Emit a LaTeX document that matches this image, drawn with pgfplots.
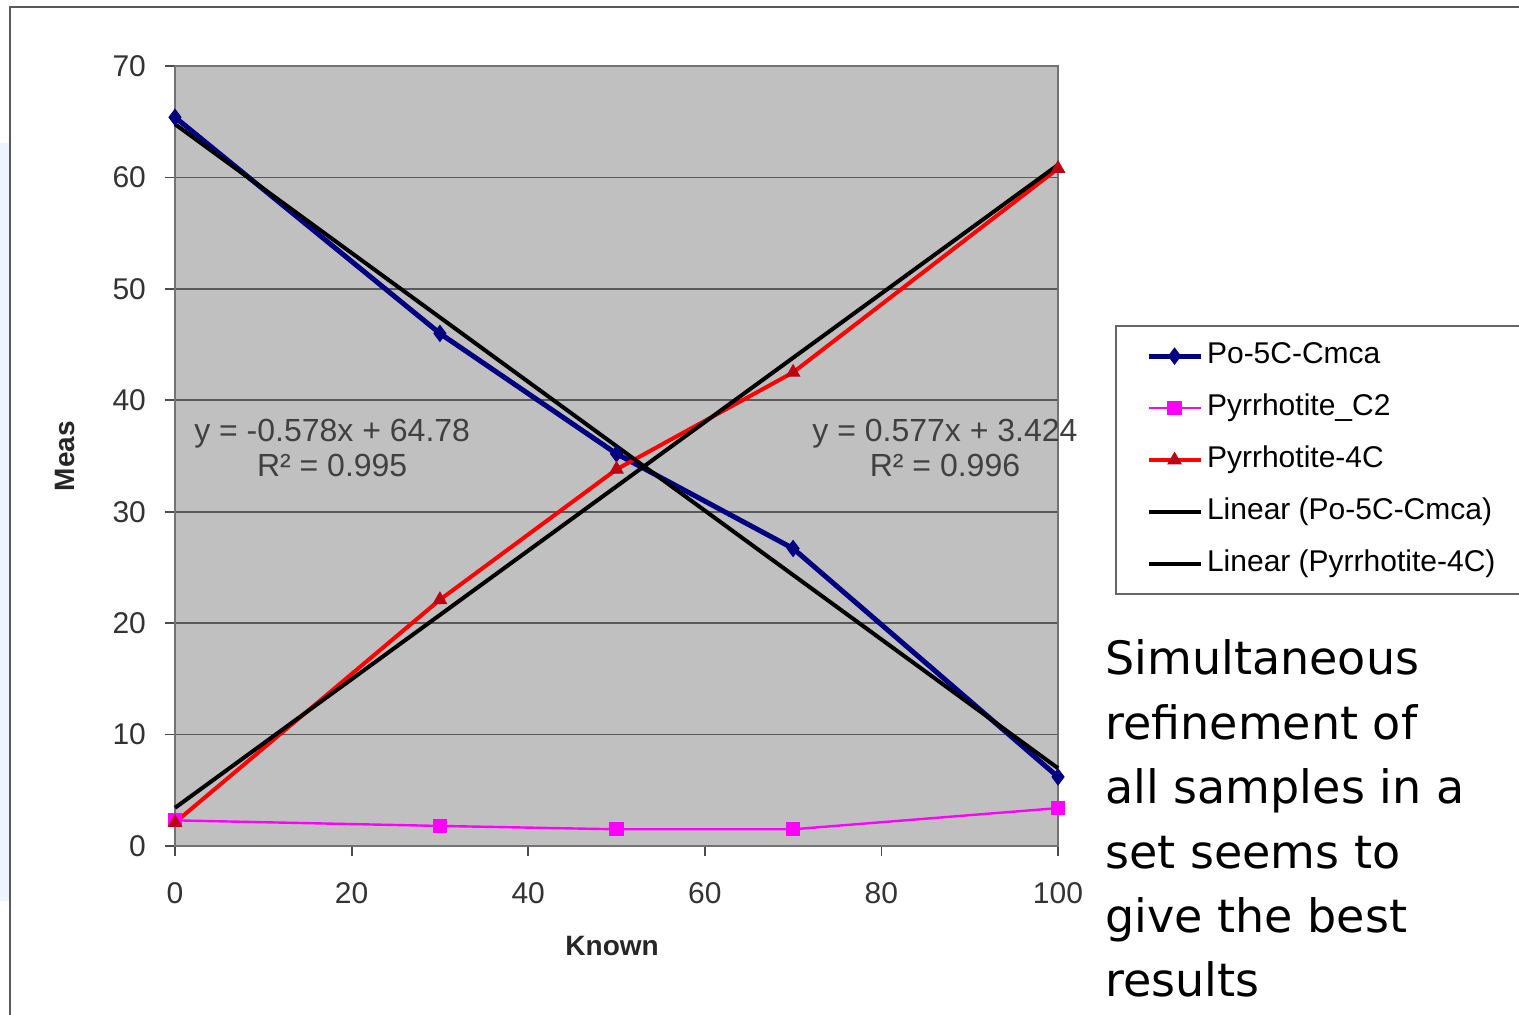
\documentclass[border=0pt]{standalone}
\usepackage{pgfplots}
\pgfplotsset{compat=1.18}
\usepackage{fontspec}
\setmainfont{Liberation Sans}
\newfontfamily\tahoma{DejaVu Sans}
\definecolor{plotbg}{RGB}{192,192,192}
\definecolor{navyb}{RGB}{0,0,128}
\definecolor{magb}{RGB}{255,0,255}
\definecolor{redb}{RGB}{255,0,0}
\definecolor{tribr}{RGB}{190,0,20}
\begin{document}
\begin{tikzpicture}[x=1pt,y=1pt]
\fill[color={rgb,255:red,238;green,244;blue,251}] (0,57) rectangle (4.5,436);
\draw[line width=1pt, color=black!65] (5,0) -- (5,504) -- (770,504);
\begin{axis}[
  at={(87.5pt,84.5pt)}, anchor=south west,
  scale only axis, width=441.5pt, height=390pt,
  xmin=0, xmax=100, ymin=0, ymax=70,
  xtick={0,20,...,100}, ytick={0,10,...,70},
  axis background/.style={fill=plotbg},
  ymajorgrids, grid style={color=black!65, line width=0.9pt},
  axis line style={color=black!55, line width=1pt},
  tick align=outside, major tick length=5pt, tick pos=left,
  tick style={color=black!70, line width=0.9pt},
  /pgf/number format/assume math mode=true,
  ticklabel style={font=\fontsize{15}{18}\selectfont, color=black!80},
  xticklabel style={yshift=-9.5pt},
  yticklabel style={xshift=-6pt},
  xlabel={\textbf{Known}}, ylabel={\textbf{Meas}},
  label style={font=\fontsize{14}{16}\selectfont, color=black!85},
  xlabel style={at={(rel axis cs:0.495,-0.128)}, anchor=center},
  ylabel style={at={(rel axis cs:-0.1246,0.5)}, anchor=center},
  clip=false,
  legend cell align=left,
  legend style={at={(rel axis cs:1.0646,0.668)}, anchor=north west,
    draw=black!60, line width=1pt, fill=white,
    font=\fontsize{15}{18}\selectfont,
    inner xsep=15pt, inner ysep=6pt, row sep=7.8pt,
    nodes={inner sep=2pt, text height=11pt, text depth=3.2pt}},
  legend image code/.code={\draw[mark repeat=2,mark phase=2,#1] plot coordinates {(0pt,0pt) (13pt,0pt) (26pt,0pt)};},
]
\addplot[color=navyb, line width=2.5pt, mark=diamond*, mark size=4pt, mark options={fill=navyb, draw=navyb, line width=0.5pt}]
  coordinates {(0,65.4) (30,46.0) (50,35.2) (70,26.7) (100,6.2)};
\addlegendentry{Po-5C-Cmca}
\addplot[color=magb, line width=1.2pt, mark=square*, mark size=3.3pt, mark options={fill=magb, draw=magb, line width=0.5pt}]
  coordinates {(0,2.3) (30,1.8) (50,1.5) (70,1.5) (100,3.4)};
\addlegendentry{Pyrrhotite\_C2}
\addplot[color=redb, line width=2pt, mark=triangle*, mark size=3.8pt, mark options={fill=tribr, draw=tribr, line width=0.5pt}]
  coordinates {(0,2.1) (30,22.1) (50,33.8) (70,42.5) (100,60.8)};
\addlegendentry{Pyrrhotite-4C}
\addplot[color=black, line width=2pt] coordinates {(0,64.78) (100,6.98)};
\addlegendentry{Linear (Po-5C-Cmca)}
\addplot[color=black, line width=2pt] coordinates {(0,3.424) (100,61.124)};
\addlegendentry{Linear (Pyrrhotite-4C)}
\node[align=center, font=\fontsize{16}{17.5}\selectfont, color=black!75] at (axis cs:17.8,35.7) {y = -0.578x + 64.78\\R² = 0.995};
\node[align=center, font=\fontsize{16}{17.5}\selectfont, color=black!75] at (axis cs:87.2,35.7) {y = 0.577x + 3.424\\R² = 0.996};
\end{axis}
\begin{scope}[font=\tahoma\fontsize{23}{31}\selectfont]
\node[anchor=base west, inner sep=0pt] at (552.5,170) {Simultaneous};
\node[anchor=base west, inner sep=0pt] at (552.5,137.8) {refinement of};
\node[anchor=base west, inner sep=0pt] at (552.5,105.6) {all samples in a};
\node[anchor=base west, inner sep=0pt] at (552.5,73.4) {set seems to};
\node[anchor=base west, inner sep=0pt] at (552.5,41.2) {give the best};
\node[anchor=base west, inner sep=0pt] at (552.5,9) {results};
\end{scope}
\pgfresetboundingbox
\path[use as bounding box] (0,0) rectangle (759.5,507.5);
\end{tikzpicture}
\end{document}
